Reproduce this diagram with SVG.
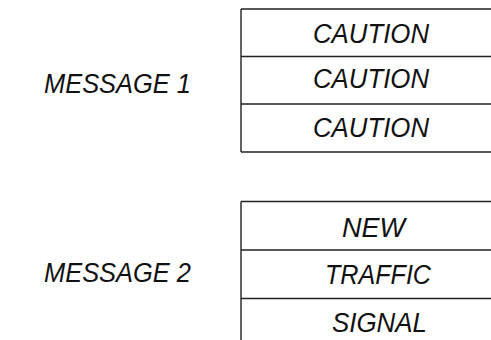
<svg xmlns="http://www.w3.org/2000/svg" width="491" height="340" viewBox="0 0 491 340">
<style>
.t{font-family:"Liberation Sans","Arial",sans-serif;font-style:italic;font-size:27px;fill:#111}
.ln{stroke:#222;stroke-width:1.4;fill:none}
</style>
<rect width="491" height="340" fill="#fff"/>
<g id="label1"><text class="t" x="44" y="93" textLength="147" lengthAdjust="spacingAndGlyphs">MESSAGE  1</text></g>
<g id="table1">
<path class="ln" d="M241,9 V152 M241,9 H491 M241,56.5 H491 M241,104 H491 M241,152 H491"/>
<text class="t" x="313" y="43" textLength="116" lengthAdjust="spacingAndGlyphs">CAUTION</text>
<text class="t" x="313" y="88" textLength="116" lengthAdjust="spacingAndGlyphs">CAUTION</text>
<text class="t" x="313" y="137" textLength="116" lengthAdjust="spacingAndGlyphs">CAUTION</text>
</g>
<g id="label2"><text class="t" x="44" y="282" textLength="147" lengthAdjust="spacingAndGlyphs">MESSAGE  2</text></g>
<g id="table2">
<path class="ln" d="M241,201.5 V340 M241,201.5 H491 M241,250 H491 M241,298.5 H491"/>
<text class="t" x="342" y="237">NEW</text>
<text class="t" x="325" y="284" textLength="106" lengthAdjust="spacingAndGlyphs">TRAFFIC</text>
<text class="t" x="332" y="332" textLength="95" lengthAdjust="spacingAndGlyphs">SIGNAL</text>
</g>
</svg>
